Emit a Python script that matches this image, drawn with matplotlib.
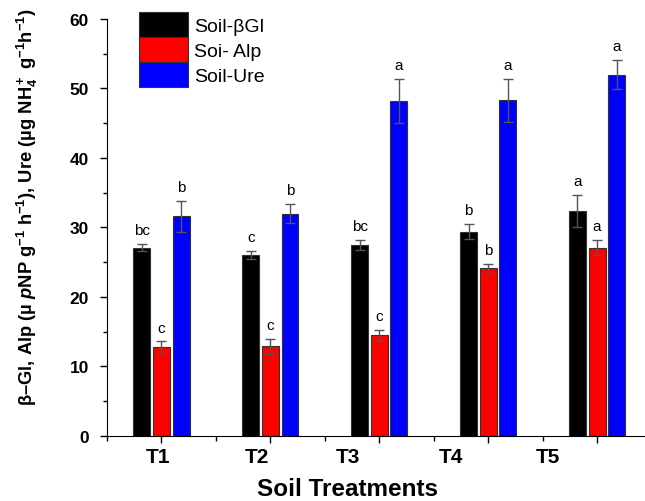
import numpy as np
import matplotlib
matplotlib.use('Agg')
import matplotlib.pyplot as plt
from matplotlib.ticker import MultipleLocator

plt.rcParams['font.family'] = ['Liberation Sans', 'DejaVu Sans']
plt.rcParams['mathtext.fontset'] = 'custom'
plt.rcParams['mathtext.rm'] = 'Liberation Sans:bold'
plt.rcParams['mathtext.bf'] = 'Liberation Sans:bold'
plt.rcParams['mathtext.it'] = 'Liberation Sans:bold:italic'
plt.rcParams['mathtext.default'] = 'bf'

# enzyme activities per treatment (mean, SE) + letters
treatments = ['T1', 'T2', 'T3', 'T4', 'T5']
bgl = [27.1, 26.0, 27.5, 29.4, 32.4]
bgl_err = [0.5, 0.6, 0.7, 1.1, 2.3]
alp = [12.8, 12.9, 14.5, 24.1, 27.1]
alp_err = [0.8, 1.1, 0.8, 0.7, 1.1]
ure = [31.6, 32.0, 48.2, 48.3, 52.0]
ure_err = [2.2, 1.4, 3.2, 3.1, 2.1]
bgl_let = ['bc', 'c', 'bc', 'b', 'a']
alp_let = ['c', 'c', 'c', 'b', 'a']
ure_let = ['b', 'b', 'a', 'a', 'a']
# where the treatment names sit under the axis
label_pos = [0.97, 1.88, 2.71, 3.66, 4.55]

fig = plt.figure(figsize=(6.45, 5.02), dpi=100)
ax = fig.add_axes([0.1659, 0.1295, 0.8341, 0.8307])

x = np.arange(1, 6)
w = 0.155
off = 0.18
series = [(bgl, bgl_err, bgl_let, 'black', 'Soil-βGl'),
          (alp, alp_err, alp_let, '#ff0000', 'Soi- Alp'),
          (ure, ure_err, ure_let, '#0000ff', 'Soil-Ure')]
for i, (vals, errs, lets, col, name) in enumerate(series):
    xs = x + (i - 1) * off
    ax.bar(xs, vals, width=w, color=col, edgecolor='#333333', linewidth=0.8,
           label=name, zorder=2)
    ax.errorbar(xs, vals, yerr=errs, fmt='none', ecolor='#555555',
                elinewidth=1, capsize=3.3, capthick=1, zorder=3)
    for xi, v, e, l in zip(xs, vals, errs, lets):
        ax.text(xi, v + e + 1.4, l, ha='center', va='baseline', fontsize=11)

ax.set_xlim(0.5, 5.44)
ax.set_ylim(0, 60)
ax.spines['top'].set_visible(False)
ax.spines['right'].set_visible(False)
ax.yaxis.set_major_locator(MultipleLocator(10))
ax.yaxis.set_minor_locator(MultipleLocator(5))
ax.xaxis.set_major_locator(MultipleLocator(1))
ax.xaxis.set_minor_locator(MultipleLocator(0.5))
ax.set_xticklabels([])
ax.tick_params(axis='y', which='major', direction='out', length=5, width=1,
               labelsize=12.5, pad=8)
ax.tick_params(axis='y', which='minor', direction='out', length=3, width=1)
ax.tick_params(axis='x', which='major', direction='out', length=5, width=1)
ax.tick_params(axis='x', which='minor', direction='out', length=3.5, width=1)
for lab in ax.get_yticklabels():
    lab.set_fontweight('bold')

for p, t in zip(label_pos, treatments):
    ax.text(p, -3.0, t, ha='center', va='center', fontsize=15, fontweight='bold')

fig.text(0.538, 0.024, 'Soil Treatments', ha='center', va='center',
         fontsize=17.5, fontweight='bold')
fig.text(0.042, 0.588,
         r'β–Gl, Alp (µ $\mathit{p}$NP g$^{-1}$ h$^{-1}$), Ure (µg NH$_4^+$ g$^{-1}$h$^{-1}$)',
         rotation=90, ha='center', va='center', fontsize=13.2, fontweight='bold')

ax.legend(loc='upper left', bbox_to_anchor=(139 / 645, 1 - 13 / 502),
          bbox_transform=fig.transFigure, frameon=False, fontsize=14,
          handlelength=2.52, handleheight=1.6, labelspacing=0.0,
          handletextpad=0.3, borderpad=0, borderaxespad=0)

fig.savefig('out.png', dpi=100)
